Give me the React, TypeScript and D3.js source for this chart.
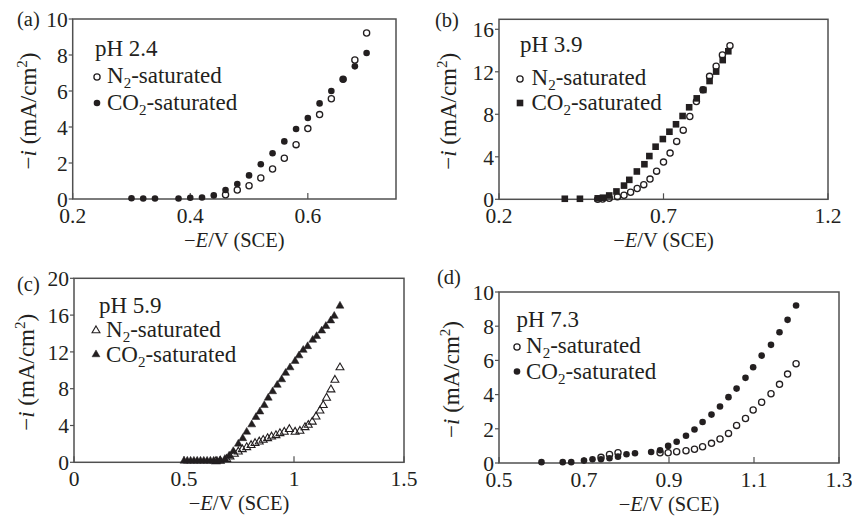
import React from 'react';
import * as d3 from 'd3';

const W = 852;
const H = 518;
const INK = '#231f20';
const FRAME = '#505050';
const FONT = "'Liberation Serif', 'Times New Roman', serif";

// (a) pH 2.4
const aN2E = [0.46, 0.48, 0.5, 0.52, 0.54, 0.56, 0.58, 0.6, 0.62, 0.64, 0.66, 0.68, 0.7];
const aN2I = [0.24, 0.5, 0.74, 1.17, 1.67, 2.26, 3.02, 3.91, 4.69, 5.57, 6.65, 7.72, 9.22];
const aCO2E = [0.3, 0.32, 0.34, 0.38, 0.4, 0.42, 0.44, 0.46, 0.48, 0.5, 0.52, 0.54, 0.56, 0.58, 0.6, 0.62, 0.64, 0.66, 0.68, 0.7];
const aCO2I = [0.04, 0.03, 0.03, 0.03, 0.07, 0.08, 0.2, 0.5, 0.83, 1.31, 1.93, 2.54, 3.2, 3.89, 4.5, 5.31, 6.0, 6.65, 7.37, 8.11];

// (b) pH 3.9
const bN2E = [0.5, 0.515, 0.535, 0.56, 0.58, 0.6, 0.62, 0.64, 0.659, 0.679, 0.7, 0.72, 0.74, 0.76, 0.78, 0.8, 0.82, 0.84, 0.86, 0.879, 0.902];
const bN2I = [0.0, 0.02, 0.1, 0.25, 0.38, 0.67, 1.02, 1.38, 1.9, 2.65, 3.5, 4.35, 5.45, 6.51, 7.79, 9.2, 10.3, 11.57, 12.52, 13.59, 14.46];
const bCO2E = [0.4, 0.446, 0.5, 0.516, 0.535, 0.557, 0.58, 0.596, 0.619, 0.642, 0.657, 0.676, 0.698, 0.718, 0.738, 0.758, 0.778, 0.801, 0.821, 0.84, 0.86, 0.88, 0.897];
const bCO2I = [0.05, 0.05, 0.09, 0.15, 0.36, 0.74, 1.29, 1.83, 2.62, 3.3, 4.07, 4.95, 5.67, 6.36, 7.06, 7.84, 8.66, 9.5, 10.29, 11.13, 12.02, 13.1, 13.93];

// (c) pH 5.9
const cN2E = [0.645, 0.665, 0.694, 0.709, 0.729, 0.747, 0.765, 0.785, 0.805, 0.823, 0.842, 0.86, 0.88, 0.898, 0.918, 0.936, 0.956, 0.979, 1.005, 1.027, 1.05, 1.065, 1.083, 1.1, 1.118, 1.133, 1.148, 1.168, 1.186, 1.209];
const cN2I = [0.1, 0.15, 0.33, 0.61, 0.9, 1.15, 1.41, 1.63, 1.85, 2.07, 2.24, 2.42, 2.6, 2.78, 2.93, 3.15, 3.29, 3.59, 3.3, 3.4, 3.8, 4.05, 4.4, 4.96, 5.6, 6.2, 7.0, 7.9, 8.95, 10.3];
const cCO2E = [0.5, 0.515, 0.53, 0.545, 0.56, 0.575, 0.59, 0.605, 0.62, 0.635, 0.65, 0.664, 0.686, 0.705, 0.724, 0.747, 0.767, 0.785, 0.808, 0.827, 0.845, 0.865, 0.883, 0.903, 0.924, 0.944, 0.962, 0.982, 1.005, 1.023, 1.042, 1.062, 1.085, 1.103, 1.126, 1.145, 1.167, 1.183, 1.209];
const cCO2I = [0.15, 0.15, 0.15, 0.15, 0.15, 0.15, 0.15, 0.15, 0.15, 0.15, 0.15, 0.2, 0.35, 0.7, 1.2, 2.0, 2.6, 3.3, 4.1, 4.9, 5.5, 6.2, 7.0, 7.7, 8.4, 9.0, 9.7, 10.3, 11.0, 11.6, 12.2, 12.6, 13.3, 13.7, 14.3, 14.8, 15.4, 15.9, 17.0];

// (d) pH 7.3
const dN2E = [0.74, 0.76, 0.78, 0.879, 0.898, 0.918, 0.94, 0.96, 0.979, 1.0, 1.02, 1.04, 1.059, 1.08, 1.098, 1.118, 1.14, 1.16, 1.179, 1.199];
const dN2I = [0.33, 0.5, 0.6, 0.6, 0.6, 0.66, 0.72, 0.8, 0.95, 1.15, 1.4, 1.73, 2.2, 2.6, 3.1, 3.55, 4.05, 4.6, 5.2, 5.8];
const dCO2E = [0.6, 0.65, 0.67, 0.7, 0.72, 0.74, 0.76, 0.78, 0.8, 0.82, 0.858, 0.879, 0.898, 0.918, 0.94, 0.96, 0.979, 1.0, 1.02, 1.04, 1.059, 1.08, 1.098, 1.118, 1.14, 1.16, 1.179, 1.199];
const dCO2I = [0.05, 0.05, 0.05, 0.14, 0.22, 0.22, 0.28, 0.37, 0.51, 0.57, 0.64, 0.75, 1.0, 1.24, 1.59, 1.96, 2.4, 2.83, 3.3, 3.85, 4.35, 4.98, 5.6, 6.28, 6.91, 7.65, 8.37, 9.21];

// Axis ticks
const aXTicks = [0.2, 0.4, 0.6];
const aYTicks = [0, 2, 4, 6, 8, 10];
const bXTicks = [0.2, 0.7, 1.2];
const bYTicks = [0, 4, 8, 12, 16];
const cXTicks = [0, 0.5, 1, 1.5];
const cYTicks = [0, 4, 8, 12, 16, 20];
const dXTicks = [0.5, 0.7, 0.9, 1.1, 1.3];
const dYTicks = [0, 2, 4, 6, 8, 10];

const panelTags = ['(a)', '(b)', '(c)', '(d)'];
const phLabels = ['pH 2.4', 'pH 3.9', 'pH 5.9', 'pH 7.3'];

type Kind = 'circle' | 'square' | 'triangle';

type Series = { e: number[]; i: number[]; kind: Kind; filled: boolean };

type Box = { left: number; right: number; top: number; bottom: number };

type PanelCfg = {
  tag: string;
  tagPos: [number, number];
  ph: string;
  box: Box;
  xDomain: [number, number];
  yDomain: [number, number];
  xTicks: number[];
  yTicks: number[];
  yLabelX: number;
  legend: { phX: number; phY: number; markX: number; textX: number; row1: number; row2: number };
  n2: Series;
  co2: Series;
};

const panels: PanelCfg[] = [
  {
    tag: panelTags[0], tagPos: [17, 26], ph: phLabels[0],
    box: { left: 72.7, right: 396, top: 19, bottom: 199 },
    xDomain: [0.2, 0.75], yDomain: [0, 10], xTicks: aXTicks, yTicks: aYTicks, yLabelX: 36,
    legend: { phX: 95, phY: 56, markX: 97, textX: 107, row1: 83, row2: 110 },
    n2: { e: aN2E, i: aN2I, kind: 'circle', filled: false },
    co2: { e: aCO2E, i: aCO2I, kind: 'circle', filled: true },
  },
  {
    tag: panelTags[1], tagPos: [435, 27], ph: phLabels[1],
    box: { left: 499, right: 828, top: 19.3, bottom: 199.3 },
    xDomain: [0.2, 1.2], yDomain: [0, 16.94], xTicks: bXTicks, yTicks: bYTicks, yLabelX: 456,
    legend: { phX: 520, phY: 52, markX: 520, textX: 531.5, row1: 85, row2: 110 },
    n2: { e: bN2E, i: bN2I, kind: 'circle', filled: false },
    co2: { e: bCO2E, i: bCO2I, kind: 'square', filled: true },
  },
  {
    tag: panelTags[2], tagPos: [17, 291], ph: phLabels[2],
    box: { left: 74, right: 404, top: 278.3, bottom: 462.3 },
    xDomain: [0, 1.5], yDomain: [0, 20], xTicks: cXTicks, yTicks: cYTicks, yLabelX: 34,
    legend: { phX: 99, phY: 313, markX: 96, textX: 106, row1: 336.5, row2: 361.5 },
    n2: { e: cN2E, i: cN2I, kind: 'triangle', filled: false },
    co2: { e: cCO2E, i: cCO2I, kind: 'triangle', filled: true },
  },
  {
    tag: panelTags[3], tagPos: [437, 284], ph: phLabels[3],
    box: { left: 499, right: 839, top: 292, bottom: 463 },
    xDomain: [0.5, 1.3], yDomain: [0, 10], xTicks: dXTicks, yTicks: dYTicks, yLabelX: 459,
    legend: { phX: 516.5, phY: 327, markX: 517, textX: 526, row1: 353, row2: 378.5 },
    n2: { e: dN2E, i: dN2I, kind: 'circle', filled: false },
    co2: { e: dCO2E, i: dCO2I, kind: 'circle', filled: true },
  },
];

const triPath = d3.symbol().type(d3.symbolTriangle).size(27)() as string;

function Marker({ kind, filled, x, y }: { kind: Kind; filled: boolean; x: number; y: number }) {
  if (kind === 'square') {
    return <rect x={x - 3.3} y={y - 3.3} width={6.6} height={6.6} fill={INK} />;
  }
  if (kind === 'triangle') {
    return (
      <path
        d={triPath}
        transform={`translate(${x},${y})`}
        fill={filled ? INK : 'none'}
        stroke={INK}
        strokeWidth={filled ? 0.5 : 1.1}
        strokeLinejoin="miter"
      />
    );
  }
  return filled ? (
    <circle cx={x} cy={y} r={3.3} fill={INK} />
  ) : (
    <circle cx={x} cy={y} r={3.1} fill="none" stroke={INK} strokeWidth={1.3} />
  );
}

function Panel({ cfg }: { cfg: PanelCfg }) {
  const { box } = cfg;
  const x = d3.scaleLinear().domain(cfg.xDomain).range([box.left, box.right]);
  const y = d3.scaleLinear().domain(cfg.yDomain).range([box.bottom, box.top]);
  const cx = (box.left + box.right) / 2;
  const cy = (box.top + box.bottom) / 2;
  const order = cfg.co2.kind === 'square' ? [cfg.co2, cfg.n2] : [cfg.n2, cfg.co2];
  const lg = cfg.legend;

  return (
    <g>
      <rect
        x={box.left}
        y={box.top}
        width={box.right - box.left}
        height={box.bottom - box.top}
        fill="none"
        stroke={FRAME}
        strokeWidth={1.5}
      />
      {cfg.xTicks.map((t) => (
        <g key={`x${t}`}>
          <line x1={x(t)} x2={x(t)} y1={box.bottom} y2={box.bottom - 6} stroke={FRAME} strokeWidth={1.2} />
          <text x={x(t)} y={box.bottom + 23.5} textAnchor="middle" fontSize={21.5} fill={INK}>
            {String(t)}
          </text>
        </g>
      ))}
      {cfg.yTicks.map((t) => (
        <g key={`y${t}`}>
          <line x1={box.left - 4} x2={box.left} y1={y(t)} y2={y(t)} stroke={FRAME} strokeWidth={1.2} />
          <text x={box.left - 5} y={y(t)} dy="0.36em" textAnchor="end" fontSize={21.5} fill={INK}>
            {String(t)}
          </text>
        </g>
      ))}

      {order.map((s, si) => (
        <g key={si}>
          {s.e.map((e, k) => (
            <Marker key={k} kind={s.kind} filled={s.filled} x={x(e)} y={y(s.i[k])} />
          ))}
        </g>
      ))}

      {/* panel tag */}
      <text x={cfg.tagPos[0]} y={cfg.tagPos[1]} fontSize={20.5} fill={INK}>
        {cfg.tag}
      </text>

      {/* legend */}
      <text x={lg.phX} y={lg.phY} fontSize={23} fill={INK}>
        {cfg.ph}
      </text>
      <Marker kind={cfg.n2.kind} filled={false} x={lg.markX} y={lg.row1 - 6} />
      <text x={lg.textX} y={lg.row1} fontSize={23} fill={INK}>
        N
        <tspan fontSize={15} dy={5}>2</tspan>
        <tspan dy={-5}>-saturated</tspan>
      </text>
      <Marker kind={cfg.co2.kind} filled={true} x={lg.markX} y={lg.row2 - 7} />
      <text x={lg.textX} y={lg.row2} fontSize={23} fill={INK}>
        CO
        <tspan fontSize={15} dy={5}>2</tspan>
        <tspan dy={-5}>-saturated</tspan>
      </text>

      {/* axis titles */}
      <text x={cx} y={box.bottom + 47.5} textAnchor="middle" fontSize={20.5} fill={INK}>
        −<tspan fontStyle="italic">E</tspan>/V (SCE)
      </text>
      <text
        transform={`translate(${cfg.yLabelX},${cy + 2}) rotate(-90)`}
        textAnchor="middle"
        fontSize={23}
        fill={INK}
      >
        −<tspan fontStyle="italic">i</tspan> (mA/cm
        <tspan fontSize={15} dy={-9}>2</tspan>
        <tspan dy={9}>)</tspan>
      </text>
    </g>
  );
}

export default function App() {
  return (
    <svg
      width={W}
      height={H}
      viewBox={`0 0 ${W} ${H}`}
      style={{ position: 'absolute', left: 0, top: 0, background: '#ffffff' }}
      fontFamily={FONT}
    >
      <rect x={0} y={0} width={W} height={H} fill="#ffffff" />
      {panels.map((p) => (
        <Panel key={p.tag} cfg={p} />
      ))}
    </svg>
  );
}
